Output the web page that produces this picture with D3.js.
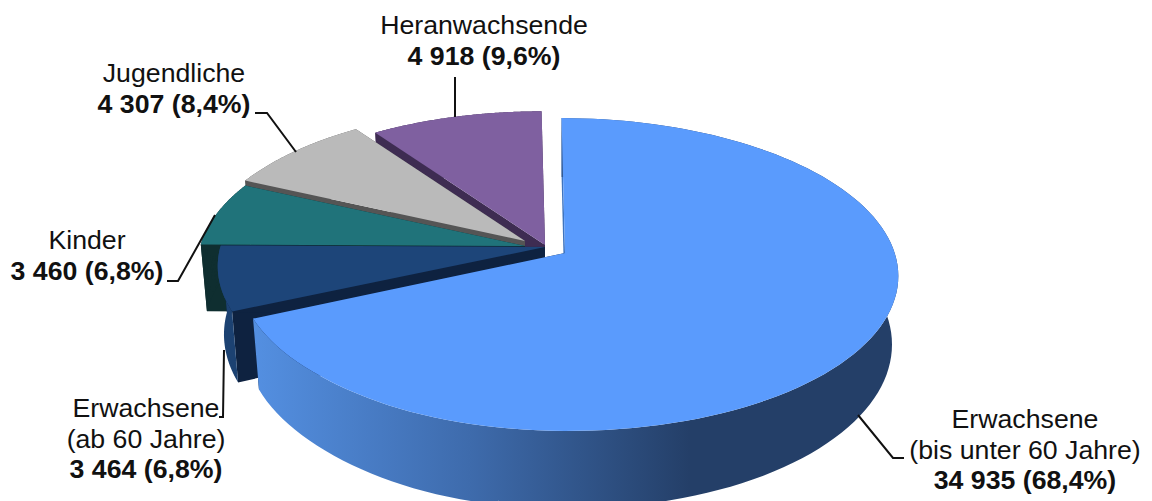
<!DOCTYPE html>
<html lang="de">
<head>
<meta charset="utf-8">
<style>
  html, body { margin: 0; background: #fff; overflow: hidden; }
  text { font-family: "Liberation Sans", Arial, sans-serif; font-size: 26.7px; fill: #111; }
  text.val { font-weight: bold; }
</style>
</head>
<body>
<svg id="chart" width="1152" height="501"></svg>
<script src="https://cdn.jsdelivr.net/npm/d3@7"></script>
<script>
/* data: pie starts at 12 o'clock, clockwise */
const categories = ['Erwachsene (bis unter 60 Jahre)', 'Erwachsene (ab 60 Jahre)', 'Kinder', 'Jugendliche', 'Heranwachsende'];
const values     = [34935, 3464, 3460, 4307, 4918];
const shares     = ['68,4%', '6,8%', '6,8%', '8,4%', '9,6%'];
const nameLines  = [['Erwachsene', '(bis unter 60 Jahre)'], ['Erwachsene', '(ab 60 Jahre)'], ['Kinder'], ['Jugendliche'], ['Heranwachsende']];

const fmt = d3.formatLocale({ thousands: ' ', grouping: [3], decimal: ',', currency: ['', ''] }).format(',');

/* --- per-slice look -------------------------------------------- */
const apex   = [[565, 253], [545, 247], [525, 246], [525, 241], [545, 245]];
const radius = [0.99, 0.975, 0.975, 0.975, 0.98];
const topCol  = ['#5A9BFD', '#1D4579', '#20737A', '#BABABA', '#7F60A0'];
const rimCol  = ['url(#blueSide)', '#1C4272', '#0F2E30', '#555555', '#3E2C52'];
const cutCol  = ['#0E2240', '#0E2240', '#0F2E30', '#555555', '#3E2C52'];
const drawOrder = [4, 3, 2, 1, 0];

/* --- projection of the tilted disc ------------------------------ */
const CFG = { a: 333, k: 155, persp: 0.139, shear: -3.5, depth: 67, shrink: 0.981 };

const rx = d3.scaleLinear().domain([-1, 1]).range([-CFG.a, CFG.a]);
const rz = d3.scaleLinear().domain([-1, 1]).range([CFG.k, -CFG.k]);

// left flank of the big slice sits a bit further in than a true ellipse
const flank = d3.scaleLinear().domain([190, 225].map(d => d * Math.PI / 180)).range([0, 1]).clamp(true);

function topPoint(i, r, ang) {
  const x = r * radius[i] * Math.sin(ang);
  const z = r * radius[i] * Math.cos(ang);
  const f = 1 / (1 + CFG.persp * z);
  const t = i === 0 ? flank(ang) : 0;
  const w = r * t * t * (3 - 2 * t);
  return [apex[i][0] + rx(x) * f + CFG.shear * z + 6 * w, apex[i][1] + rz(z) * f];
}

function bottomPoint(i, r, ang) {
  const z = r * radius[i] * Math.cos(ang);
  const p = topPoint(i, r, ang);
  const f = 1 / (1 + CFG.persp * z);
  return [apex[i][0] + (p[0] - apex[i][0]) * CFG.shrink, p[1] + CFG.depth * f];
}

const line = d3.line();
const sweep = (a0, a1) => d3.range(0, 121).map(t => a0 + (a1 - a0) * t / 120);

/* --- paths ------------------------------------------------------ */
function faceD(i, s) {
  const pts = sweep(s.startAngle, s.endAngle).map(a => topPoint(i, 1, a));
  return line([apex[i].slice(), ...pts]) + 'Z';
}

function rimD(i, s) {
  const as = sweep(s.startAngle, s.endAngle);
  let d = '';
  for (let n = 0; n < as.length - 1; n++) {
    d += line([topPoint(i, 1, as[n]), topPoint(i, 1, as[n + 1]),
               bottomPoint(i, 1, as[n + 1]), bottomPoint(i, 1, as[n])]) + 'Z';
  }
  return d;
}

function cutD(i, ang) {
  return line([topPoint(i, 0, ang), topPoint(i, 1, ang), bottomPoint(i, 1, ang), bottomPoint(i, 0, ang)]) + 'Z';
}

/* --- draw -------------------------------------------------------- */
const svg = d3.select('#chart');

const grad = svg.append('defs').append('linearGradient')
  .attr('id', 'blueSide').attr('gradientUnits', 'userSpaceOnUse')
  .attr('x1', 250).attr('x2', 690).attr('y1', 0).attr('y2', 0);
grad.append('stop').attr('offset', 0).attr('stop-color', '#5490E2');
grad.append('stop').attr('offset', 0.5).attr('stop-color', '#3E6BAC');
grad.append('stop').attr('offset', 1).attr('stop-color', '#243F68');

const arcs = d3.pie().sort(null)(values);

drawOrder.forEach(i => {
  const s = arcs[i];
  const g = svg.append('g').attr('class', 'slice').attr('data-name', categories[i]);
  g.append('path').attr('d', cutD(i, s.startAngle)).attr('fill', i === 0 ? '#3F74BE' : cutCol[i]);
  g.append('path').attr('d', cutD(i, s.endAngle)).attr('fill', cutCol[i]);
  g.append('path').attr('d', rimD(i, s)).attr('fill', rimCol[i]);
  g.append('path').attr('d', faceD(i, s)).attr('fill', topCol[i]);
});

/* --- leader lines ------------------------------------------------ */
const leaders = [
  [[904, 458], [893, 458], [858, 415]],
  [[219, 417], [223, 417], [224, 350]],
  [[167, 281], [178, 281], [215, 215]],
  [[255, 113], [267, 113], [296, 152]],
  [[455, 77], [455, 117]],
];
svg.append('g').selectAll('path').data(leaders).join('path')
  .attr('d', d => line(d))
  .attr('fill', 'none').attr('stroke', '#111').attr('stroke-width', 2);

/* --- labels ------------------------------------------------------ */
const labelPos = [[1025, 428], [146, 417], [87, 249], [174, 82], [484, 34]];
const LINE_H = 30.5;

categories.forEach((c, i) => {
  const t = svg.append('text').attr('text-anchor', 'middle');
  const [lx, ly] = labelPos[i];
  nameLines[i].forEach((l, n) => {
    t.append('tspan').attr('x', lx).attr('y', ly + n * LINE_H).text(l);
  });
  t.append('tspan').attr('class', 'val').attr('font-weight', 'bold')
    .attr('x', lx).attr('y', ly + nameLines[i].length * LINE_H)
    .text(`${fmt(values[i])} (${shares[i]})`);
});
</script>
</body>
</html>
